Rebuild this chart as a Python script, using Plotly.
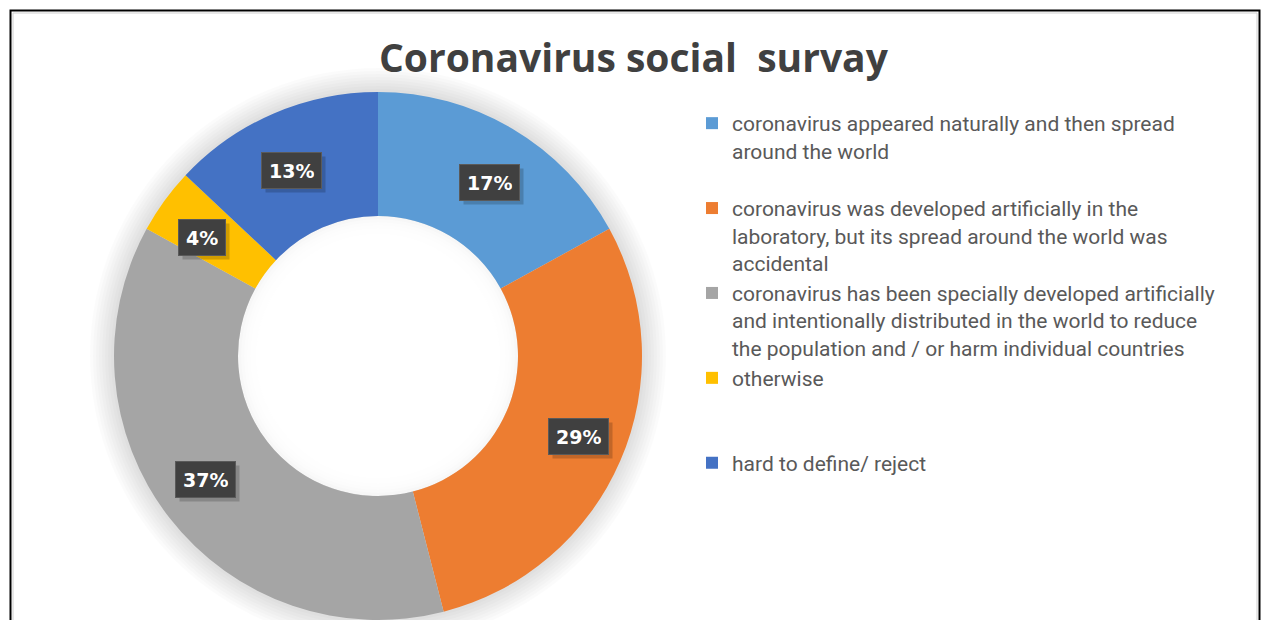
import math
import plotly.graph_objects as go

# ---- data ----
categories = [
    "coronavirus appeared naturally and then spread<br>around the world",
    "coronavirus was developed artificially in the<br>laboratory, but its spread around the world was<br>accidental",
    "coronavirus has been specially developed artificially<br>and intentionally distributed in the world to reduce<br>the population and / or harm individual countries",
    "otherwise",
    "hard to define/ reject",
]
values = [17, 29, 37, 4, 13]
colors = ["#5B9BD5", "#ED7D31", "#A5A5A5", "#FFC000", "#4472C4"]
title_text = "Coronavirus social\u00a0\u00a0survay"

# ---- layout geometry (pixels) ----
W, H = 1264, 620
CX, CY = 378, 356          # donut centre
R_OUT = 264                # outer radius
R_IN = 140                 # inner radius
HOLE = R_IN / R_OUT
X_STRETCH = 1.08           # reference chart is slightly wider than tall
LABEL_SIZE = 19


def circle(r, fill):
    return dict(type="circle", xref="paper", yref="paper", layer="below",
                x0=(CX - r) / W, x1=(CX + r) / W,
                y0=1 - (CY + r) / H, y1=1 - (CY - r) / H,
                fillcolor=fill, line=dict(width=0))


# pad legend entries to equal height (3 lines each)
legend_names = []
for c in categories:
    n = c.count("<br>") + 1
    legend_names.append(c + "<br>\u00a0" * (3 - n))

fig = go.Figure()
fig.add_trace(go.Pie(
    labels=legend_names,
    values=values,
    sort=False,
    direction="clockwise",
    rotation=0,
    hole=HOLE,
    marker=dict(colors=colors, line=dict(width=0)),
    textinfo="none",
    hoverinfo="label+percent",
    domain=dict(x=[(CX - R_OUT) / W, (CX + R_OUT) / W],
                y=[max(0, (H - CY - R_OUT) / H), (H - CY + R_OUT) / H]),
))

# ---- data labels (dark boxes) at mid-angle, mid-ring ----
total = sum(values)
r_mid = (R_OUT + R_IN) / 2
annotations = []
cum = 0
for v in values:
    theta = 2 * math.pi * (cum + v / 2) / total
    cum += v
    px = CX + X_STRETCH * r_mid * math.sin(theta)
    py = CY - r_mid * math.cos(theta)
    pct = round(v / total * 100)
    txt = f"<b>{pct}%</b>"
    # approximate text width of bold DejaVu digits + percent sign
    tw = LABEL_SIZE * (0.696 * len(str(pct)) + 1.002)
    common = dict(xref="paper", yref="paper", showarrow=False,
                  xanchor="center", yanchor="middle", height=21, borderpad=7)
    # drop shadow box
    annotations.append(dict(
        x=(px + 4) / W, y=1 - (py + 4) / H, text="\u00a0", width=tw,
        font=dict(family="DejaVu Sans", size=LABEL_SIZE, color="rgba(0,0,0,0)"),
        bgcolor="rgba(0,0,0,0.18)", borderwidth=1, bordercolor="rgba(0,0,0,0)",
        **common,
    ))
    annotations.append(dict(
        x=px / W, y=1 - py / H, text=txt,
        font=dict(family="DejaVu Sans", size=LABEL_SIZE, color="white"),
        bgcolor="#404040", bordercolor="#5a5a5a", borderwidth=1,
        **common,
    ))

# title
annotations.append(dict(
    x=634 / W, y=1 - 57 / H, xref="paper", yref="paper",
    text=f"<b>{title_text}</b>", showarrow=False,
    font=dict(family="Open Sans", size=39, color="#404040"),
    xanchor="center", yanchor="middle",
))

# soft shadow around the ring (outer glow, inner shade in the hole)
shapes = []
for k in range(8, 0, -1):
    shapes.append(circle(R_OUT + 3 * k, "rgba(0,0,0,0.016)"))
shapes.append(circle(R_IN, "white"))
shapes.append(circle(R_IN, "rgba(0,0,0,0.03)"))
for k in range(1, 6):
    shapes.append(circle(R_IN - 3 * k, "rgba(255,255,255,0.35)"))
shapes.append(circle(R_IN - 18, "white"))

# chart frame
shapes += [
    dict(type="rect", xref="paper", yref="paper",
         x0=10.5 / W, x1=1259.5 / W, y0=-0.1, y1=1 - 10.5 / H,
         line=dict(color="black", width=2), layer="above"),
    dict(type="rect", xref="paper", yref="paper",
         x0=13 / W, x1=1257 / W, y0=-0.1, y1=1 - 13 / H,
         line=dict(color="#d0d0d0", width=1), layer="above"),
]

fig.update_layout(
    width=W, height=H,
    margin=dict(l=0, r=0, t=0, b=0),
    paper_bgcolor="white",
    plot_bgcolor="white",
    showlegend=True,
    legend=dict(
        x=692 / W, y=1 - 103 / H, xanchor="left", yanchor="top",
        font=dict(family="Roboto", size=21, color="#595959"),
        valign="top", bgcolor="rgba(0,0,0,0)",
        tracegroupgap=0,
    ),
    annotations=annotations,
    shapes=shapes,
)

fig.write_html("out.html")
